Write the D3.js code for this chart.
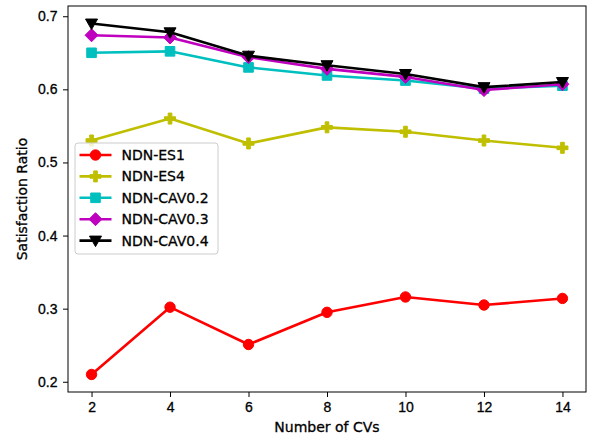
<!DOCTYPE html>
<html>
<head>
<meta charset="utf-8">
<script src="https://cdn.jsdelivr.net/npm/d3@7"></script>
<style>
  body { margin: 0; background: #fff; }
  svg { display: block; font-family: "DejaVu Sans", sans-serif; }
  svg text { fill: #000; stroke: #000; stroke-width: 0.3px; }
  .tick text { font-size: 14px; }
</style>
</head>
<body>
<div id="chart"></div>
<script>
// data
const cvCounts = [2, 4, 6, 8, 10, 12, 14];
const seriesNames = ['NDN-ES1', 'NDN-ES4', 'NDN-CAV0.2', 'NDN-CAV0.3', 'NDN-CAV0.4'];
const es1 = [0.210, 0.302, 0.251, 0.295, 0.316, 0.305, 0.314];
const es4 = [0.530, 0.560, 0.526, 0.548, 0.542, 0.530, 0.520];
const cav02 = [0.650, 0.652, 0.630, 0.619, 0.612, 0.601, 0.605];
const cav03 = [0.674, 0.671, 0.644, 0.628, 0.617, 0.599, 0.607];
const cav04 = [0.690, 0.678, 0.646, 0.633, 0.621, 0.603, 0.610];
const yTicks = [0.2, 0.3, 0.4, 0.5, 0.6, 0.7];

const W = 590, H = 439;
const margin = {top: 6, right: 4, bottom: 47, left: 68};
const iw = W - margin.left - margin.right;
const ih = H - margin.top - margin.bottom;

// marker shapes as path strings (centered at 0,0)
const markers = {
  circle: r => `M${r},0A${r},${r} 0 1,1 ${-r},0A${r},${r} 0 1,1 ${r},0Z`,
  plus: r => { const a = r / 3; return `M${-a},${-r}H${a}V${-a}H${r}V${a}H${a}V${r}H${-a}V${a}H${-r}V${-a}H${-a}Z`; },
  square: r => `M${-r},${-r}H${r}V${r}H${-r}Z`,
  diamond: r => `M0,${-r}L${r},0L0,${r}L${-r},0Z`,
  triDown: r => `M${-r},${-r * 0.75}H${r}L0,${r}Z`
};

const series = [
  {name: seriesNames[0], values: es1, color: '#ff0000', marker: 'circle', size: 5.2},
  {name: seriesNames[1], values: es4, color: '#bfbf00', marker: 'plus', size: 5.5},
  {name: seriesNames[2], values: cav02, color: '#00bfbf', marker: 'square', size: 4.8},
  {name: seriesNames[3], values: cav03, color: '#bf00bf', marker: 'diamond', size: 6.5},
  {name: seriesNames[4], values: cav04, color: '#000000', marker: 'triDown', size: 6}
];

const svg = d3.select('#chart').append('svg')
  .attr('width', W).attr('height', H);

const g = svg.append('g').attr('transform', `translate(${margin.left},${margin.top})`);

const x = d3.scaleLinear().domain([1.4, 14.6]).range([0, iw]);
const y = d3.scaleLinear().domain([0.186, 0.714]).range([ih, 0]);

const line = d3.line().x(d => x(d[0])).y(d => y(d[1]));

series.forEach(s => {
  const pts = cvCounts.map((c, i) => [c, s.values[i]]);
  const sg = g.append('g');
  sg.append('path')
    .attr('d', line(pts))
    .attr('fill', 'none')
    .attr('stroke', s.color)
    .attr('stroke-width', 2.6)
    .attr('stroke-linejoin', 'round');
  sg.selectAll('path.mk').data(pts).enter().append('path')
    .attr('class', 'mk')
    .attr('transform', d => `translate(${x(d[0])},${y(d[1])})`)
    .attr('d', markers[s.marker](s.size))
    .attr('fill', s.color)
    .attr('stroke', s.color)
    .attr('stroke-width', 1);
});

// axes
const xAxis = g.append('g').attr('transform', `translate(0,${ih})`)
  .call(d3.axisBottom(x).tickValues(cvCounts).tickSize(5).tickPadding(5.5).tickFormat(d3.format('d')));
const yAxis = g.append('g')
  .call(d3.axisLeft(y).tickValues(yTicks).tickSize(5).tickPadding(5.5).tickFormat(d3.format('.1f')));
[xAxis, yAxis].forEach(a => {
  a.select('.domain').remove();
  a.selectAll('.tick line').attr('stroke', '#000').attr('stroke-width', 1);
});

// frame
g.append('rect').attr('width', iw).attr('height', ih)
  .attr('fill', 'none').attr('stroke', '#000').attr('stroke-width', 1);

// axis labels
svg.append('text')
  .attr('x', margin.left + iw / 2).attr('y', 432)
  .attr('text-anchor', 'middle').attr('font-size', 14)
  .text('Number of CVs');
svg.append('text')
  .attr('transform', `translate(27,${margin.top + ih / 2}) rotate(-90)`)
  .attr('text-anchor', 'middle').attr('font-size', 14)
  .text('Satisfaction Ratio');

// legend
const lg = svg.append('g').attr('transform', 'translate(75,143)');
lg.append('rect')
  .attr('width', 143).attr('height', 111).attr('rx', 3)
  .attr('fill', '#fff').attr('fill-opacity', 0.8)
  .attr('stroke', '#cccccc').attr('stroke-width', 1);
series.forEach((s, i) => {
  const yy = 12 + i * 21.4;
  const item = lg.append('g').attr('transform', `translate(0,${yy})`);
  item.append('line').attr('x1', 4.5).attr('x2', 36.5)
    .attr('stroke', s.color).attr('stroke-width', 2.6);
  item.append('path').attr('transform', 'translate(20.5,0)')
    .attr('d', markers[s.marker](s.size))
    .attr('fill', s.color).attr('stroke', s.color).attr('stroke-width', 1);
  item.append('text').attr('x', 46.5).attr('y', 5)
    .attr('font-size', 14).text(s.name);
});
</script>
</body>
</html>
